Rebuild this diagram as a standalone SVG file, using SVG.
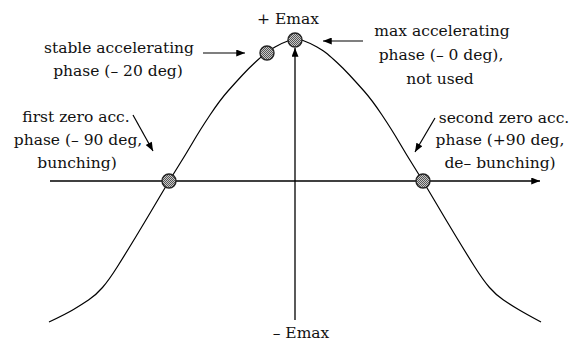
<svg xmlns="http://www.w3.org/2000/svg" width="578" height="344" viewBox="0 0 578 344">
<style>
text{font-family:"DejaVu Serif","Liberation Serif",serif;font-size:15.5px;fill:#111;text-anchor:middle}
.ax{stroke:#000;stroke-width:1.3;fill:none}
.ln{stroke:#000;stroke-width:1.2;fill:none}
.curve{stroke:#000;stroke-width:1.2;fill:none;stroke-linejoin:round}
.pt{fill:url(#dots);stroke:#222;stroke-width:1.4}
</style>
<defs>
<pattern id="dots" width="2" height="2" patternUnits="userSpaceOnUse">
<rect width="2" height="2" fill="#c8c8c8"/>
<rect width="1" height="1" fill="#555"/>
<rect x="1" y="1" width="1" height="1" fill="#555"/>
</pattern>
<marker id="ah" viewBox="0 0 10 8" refX="10" refY="4" markerWidth="10" markerHeight="7" markerUnits="userSpaceOnUse" orient="auto">
<path d="M0,0 L10,4 L0,8 Z" fill="#000"/>
</marker>
</defs>
<g id="connectors">
<line class="ax" x1="50" y1="181" x2="540" y2="181" marker-end="url(#ah)"/>
<line class="ax" x1="295" y1="320" x2="295" y2="48" marker-end="url(#ah)"/>
<line class="ln" x1="203" y1="53" x2="245" y2="53" marker-end="url(#ah)"/>
<line class="ln" x1="363" y1="41" x2="323" y2="41" marker-end="url(#ah)"/>
<line class="ln" x1="133" y1="115" x2="153" y2="151" marker-end="url(#ah)"/>
<line class="ln" x1="435" y1="118" x2="415" y2="152" marker-end="url(#ah)"/>
</g>
<g id="curve">
<path class="curve" d="M49,322 Q66,314 73.5,309.5 Q81,305 88.5,300 Q96,295 102.5,287.5 Q109,280 117.5,266.5 Q126,253 136,236.5 Q146,220 157.5,200.5 Q169,181 177.5,167.5 Q186,154 193,142 Q200,130 210,115 Q220,100 228,91 Q236,82 242.5,75 Q249,68 255,62.5 Q261,57 264.5,54 Q268,51 275,47 Q282,43 289,40.5 Q296,38 303,40.5 Q310,43 317,47 Q324,51 327.5,54 Q331,57 337,62.5 Q343,68 349.5,75 Q356,82 364,91 Q372,100 382,115 Q392,130 399,142 Q406,154 414.5,167.5 Q423,181 434.5,200.5 Q446,220 456,236.5 Q466,253 474.5,266.5 Q483,280 489.5,287.5 Q496,295 503.5,300 Q511,305 518.5,309.5 Q526,314 541,322"/>
</g>
<g id="node-max">
<circle class="pt" cx="295" cy="40" r="7"/>
</g>
<g id="node-stable">
<circle class="pt" cx="267" cy="53" r="7"/>
</g>
<g id="node-first-zero">
<circle class="pt" cx="169" cy="181" r="7"/>
</g>
<g id="node-second-zero">
<circle class="pt" cx="423" cy="181" r="7"/>
</g>
<g id="labels">
<text x="288" y="24">+ Emax</text>
<text x="301" y="338">– Emax</text>
<text x="119" y="53">stable accelerating</text>
<text x="118" y="76">phase (– 20 deg)</text>
<text x="442" y="36">max accelerating</text>
<text x="441" y="60">phase (– 0 deg),</text>
<text x="440" y="84">not used</text>
<text x="76" y="122">first zero acc.</text>
<text x="78" y="145">phase (– 90 deg,</text>
<text x="77" y="168">bunching)</text>
<text x="504" y="123">second zero acc.</text>
<text x="500" y="145">phase (+90 deg,</text>
<text x="500" y="168">de– bunching)</text>
</g>
</svg>
